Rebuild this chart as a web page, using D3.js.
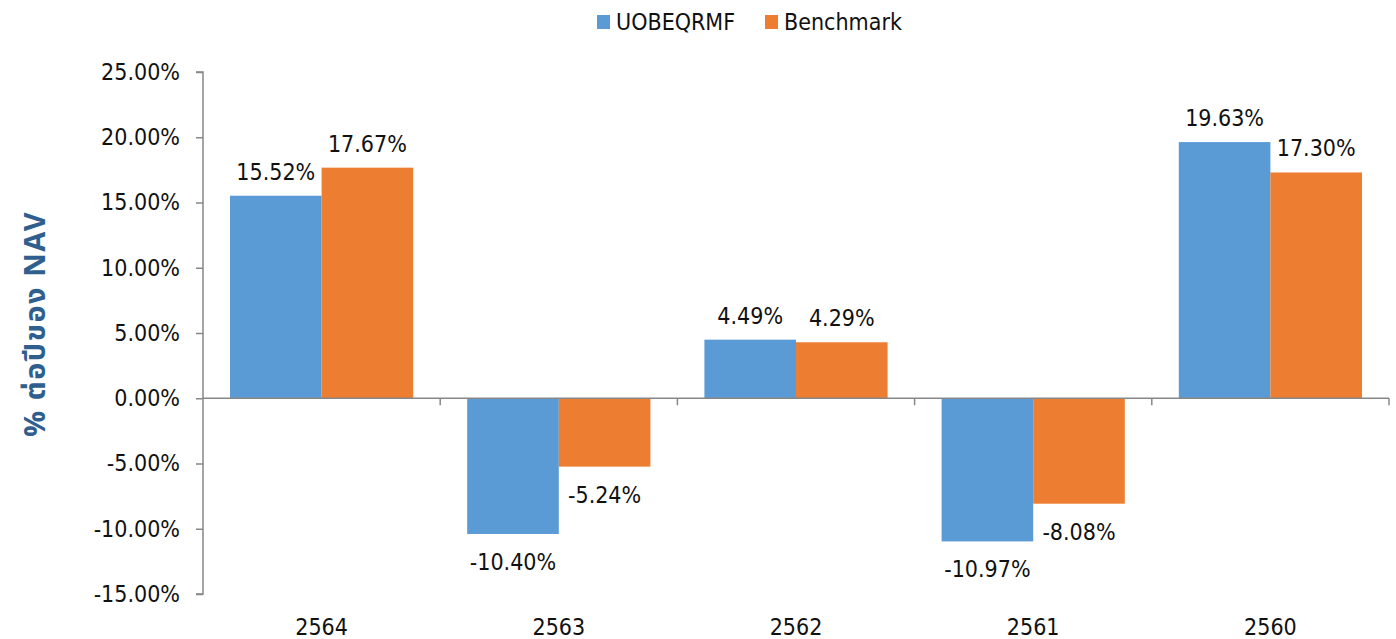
<!DOCTYPE html>
<html>
<head>
<meta charset="utf-8">
<script src="https://cdn.jsdelivr.net/npm/d3@7"></script>
<style>
  body { margin: 0; background: #fff; }
  text { font-family: "DejaVu Sans Condensed", "DejaVu Sans", sans-serif; }
</style>
</head>
<body>
<svg id="chart" width="1396" height="639"></svg>
<script>
var years = ["2564", "2563", "2562", "2561", "2560"];
var seriesNames = ["UOBEQRMF", "Benchmark"];
var fundVals = [15.52, -10.40, 4.49, -10.97, 19.63];
var benchVals = [17.67, -5.24, 4.29, -8.08, 17.30];
var yTicks = [25, 20, 15, 10, 5, 0, -5, -10, -15];
var colores = ["#5B9BD5", "#ED7D31"];

const svg = d3.select("#chart");
const mLeft = 203, mRight = 1389, mTop = 72, mBottom = 594;

const y = d3.scaleLinear().domain([-15, 25]).range([mBottom, mTop]);
const x0 = d3.scaleBand().domain(years).range([mLeft, mRight]).padding(0);
const x1 = d3.scaleBand().domain(seriesNames)
    .range([27, x0.bandwidth() - 27]).padding(0);

// eje y
const yAxis = svg.append("g")
    .attr("transform", "translate(" + mLeft + ",0)")
    .call(d3.axisLeft(y).tickValues(yTicks).tickSize(7).tickPadding(16)
        .tickFormat(function(d){ return d.toFixed(2) + "%"; }));
yAxis.select(".domain").attr("stroke", "#878787").attr("stroke-width", 1.5)
    .attr("d", "M-7," + y(25) + "H0V" + y(-15) + "H-7");
yAxis.selectAll(".tick line").attr("stroke", "#878787").attr("stroke-width", 1.5);
yAxis.selectAll(".tick text").attr("font-size", 23).attr("fill", "#111")
    .attr("font-family", "DejaVu Sans Condensed, DejaVu Sans, sans-serif");

// titulo y
svg.append("text")
    .attr("transform", "translate(45," + 324 + ") rotate(-90)")
    .attr("text-anchor", "middle")
    .attr("font-size", 29)
    .attr("font-weight", "bold")
    .attr("letter-spacing", "1.5px")
    .attr("fill", "#2F5F8F")
    .style("font-family", "'Noto Sans Thai', 'Noto Sans', 'DejaVu Sans', sans-serif")
    .text("% ต่อปีของ NAV");

var rows = years.map(function(yr, i){
    return {year: yr, vals: [
        {name: seriesNames[0], v: fundVals[i], c: colores[0]},
        {name: seriesNames[1], v: benchVals[i], c: colores[1]}
    ]};
});

const grupos = svg.selectAll("g.grupo")
    .data(rows)
    .enter().append("g")
    .attr("class", "grupo")
    .attr("transform", function(d){ return "translate(" + x0(d.year) + ",0)"; });

grupos.selectAll("rect")
    .data(function(d){ return d.vals; })
    .enter().append("rect")
    .attr("x", function(d){ return x1(d.name); })
    .attr("width", x1.bandwidth())
    .attr("y", function(d){ return y(Math.max(0, d.v)); })
    .attr("height", function(d){ return Math.abs(y(d.v) - y(0)); })
    .attr("fill", function(d){ return d.c; });

grupos.selectAll("text.lbl")
    .data(function(d){ return d.vals; })
    .enter().append("text")
    .attr("class", "lbl")
    .attr("x", function(d){ return x1(d.name) + x1.bandwidth() / 2; })
    .attr("y", function(d){ return d.v >= 0 ? y(d.v) - 16 : y(d.v) + 36; })
    .attr("text-anchor", "middle")
    .attr("font-size", 23)
    .attr("fill", "#111")
    .text(function(d){ return d.v.toFixed(2) + "%"; });

// linea cero con marcas de categoria
svg.append("line")
    .attr("x1", mLeft).attr("x2", mRight)
    .attr("y1", y(0)).attr("y2", y(0))
    .attr("stroke", "#878787").attr("stroke-width", 1.5);
svg.selectAll("line.sep")
    .data(years.slice(1).map(function(d){ return x0(d); }).concat([mRight]))
    .enter().append("line")
    .attr("class", "sep")
    .attr("x1", function(d){ return d; }).attr("x2", function(d){ return d; })
    .attr("y1", y(0)).attr("y2", y(0) + 7)
    .attr("stroke", "#878787").attr("stroke-width", 1.5);

svg.selectAll("text.cat")
    .data(years)
    .enter().append("text")
    .attr("class", "cat")
    .attr("x", function(d){ return x0(d) + x0.bandwidth() / 2; })
    .attr("y", 635)
    .attr("text-anchor", "middle")
    .attr("font-size", 23)
    .attr("fill", "#111")
    .text(function(d){ return d; });

// leyenda
const leg = svg.selectAll("g.leg")
    .data(seriesNames)
    .enter().append("g")
    .attr("class", "leg")
    .attr("transform", function(d, i){ return "translate(" + (i === 0 ? 597 : 765) + ",15)"; });
leg.append("rect")
    .attr("width", 13).attr("height", 14)
    .attr("fill", function(d, i){ return colores[i]; });
leg.append("text")
    .attr("x", 19).attr("y", 15)
    .attr("font-size", 23)
    .attr("fill", "#111")
    .text(function(d){ return d; });
</script>
</body>
</html>
